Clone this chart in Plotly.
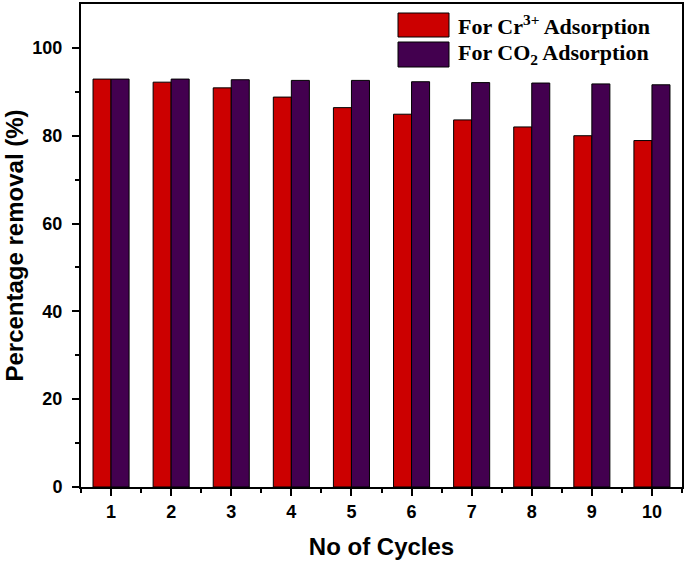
import plotly.graph_objects as go

cycles = [1, 2, 3, 4, 5, 6, 7, 8, 9, 10]
cr_removal = [92.9, 92.2, 90.9, 88.8, 86.4, 84.9, 83.6, 82.0, 80.0, 78.9]
co2_removal = [92.9, 92.9, 92.75, 92.6, 92.6, 92.3, 92.1, 92.0, 91.8, 91.6]
legend_labels = ["For Cr<sup>3+</sup> Adsorption", "For CO<sub>2</sub> Adsorption"]
colors = ["#CC0000", "#43004F"]

W, H = 685, 565
L, R, T, B = 81, 3, 4, 78
pw, ph = W - L - R, H - T - B

def px(x):
    return (x - L) / pw

def py(y):
    return (H - B - y) / ph

fig = go.Figure()
for vals, name, col in zip([cr_removal, co2_removal], legend_labels, colors):
    fig.add_trace(go.Bar(x=cycles, y=vals, name=name, marker=dict(color=col, line=dict(color="black", width=1)), showlegend=False))

# custom legend
sw = [(13, 37), (42, 67)]
for (y0, y1), name, col in zip(sw, legend_labels, colors):
    fig.add_shape(type="rect", xref="paper", yref="paper", x0=px(398), x1=px(449), y0=py(y1), y1=py(y0),
                  fillcolor=col, line=dict(color="black", width=1))
    fig.add_annotation(xref="paper", yref="paper", x=px(456), y=py((y0 + y1) / 2), text="<b>" + name + "</b>",
                       showarrow=False, xanchor="left", yanchor="middle",
                       font=dict(family="Liberation Serif", size=22, color="black"))

axis_font = dict(family="Liberation Sans", size=18, color="black")
fig.update_layout(
    width=W, height=H, margin=dict(l=L, r=R, t=T, b=B, autoexpand=False),
    paper_bgcolor="white", plot_bgcolor="white",
    barmode="group", bargap=0.4, bargroupgap=0,
    font=dict(family="Liberation Sans", color="black"),
)
fig.update_xaxes(
    range=[0.5, 10.5], tickvals=cycles, ticktext=[f"<b>{c}</b>" for c in cycles],
    tickfont=axis_font, ticks="outside", ticklen=7, tickwidth=2, tickcolor="black",
    minor=dict(dtick=0.5, tick0=0.5, ticks="outside", ticklen=4, tickwidth=2, tickcolor="black"),
    showline=True, linewidth=2, linecolor="black", mirror=True, showgrid=False, zeroline=False,
    automargin=False,
    title=dict(text="<b>No of Cycles</b>", font=dict(family="Liberation Sans", size=24, color="black"), standoff=18),
)
fig.update_yaxes(
    range=[0, 110], tickvals=[0, 20, 40, 60, 80, 100], ticktext=["<b>0</b>", "<b>20</b>", "<b>40</b>", "<b>60</b>", "<b>80</b>", "<b>100</b>"],
    tickfont=axis_font, ticks="outside", ticklen=7, tickwidth=2, tickcolor="black", ticklabelstandoff=6,
    minor=dict(tickvals=[10, 30, 50, 70, 90], ticks="outside", ticklen=4, tickwidth=2, tickcolor="black"),
    showline=True, linewidth=2, linecolor="black", mirror=True, showgrid=False, zeroline=False,
    automargin=False,
    title=dict(text="<b>Percentage removal (%)</b>", font=dict(family="Liberation Sans", size=24, color="black"), standoff=2),
)
fig.write_html("out.html", config={"displayModeBar": False},
               post_script="document.body.style.margin='0';document.body.style.padding='0';")
